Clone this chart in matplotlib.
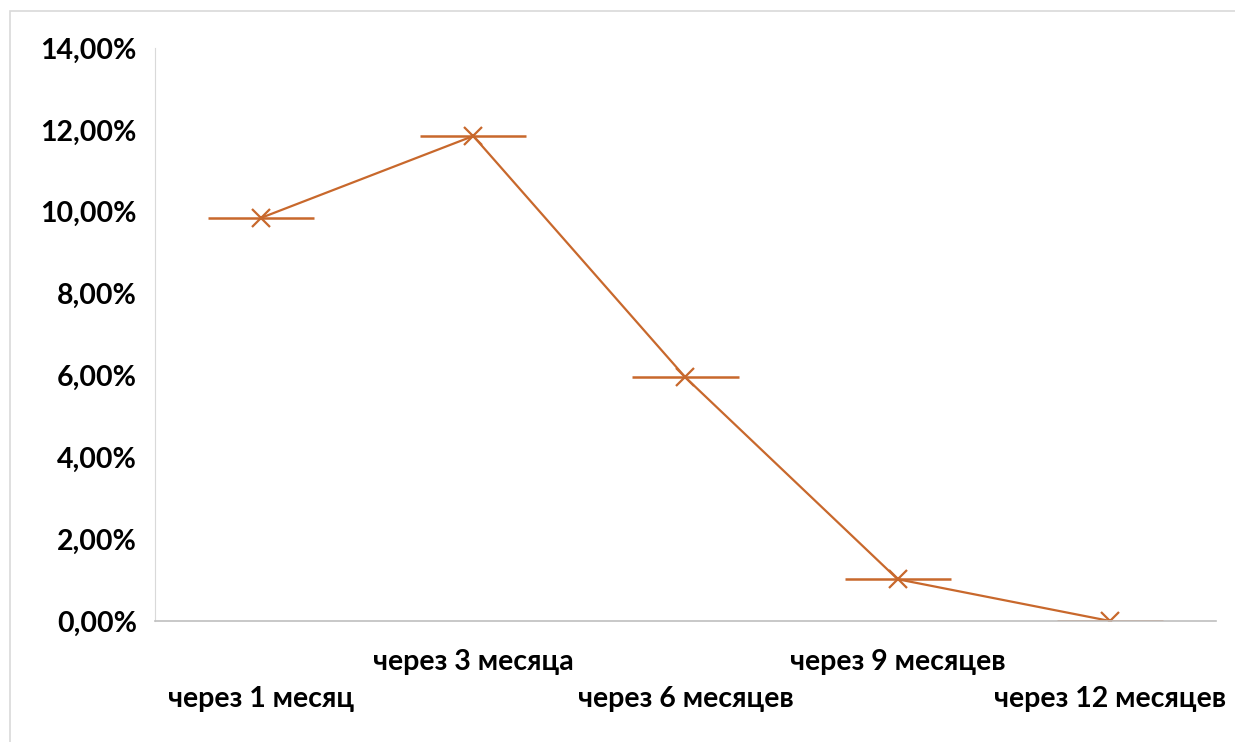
import matplotlib as mpl
mpl.use('agg')
import matplotlib.pyplot as plt
from matplotlib.ticker import FuncFormatter, MultipleLocator
from matplotlib.patches import Rectangle

# данные
categories = ['через 1 месяц', 'через 3 месяца', 'через 6 месяцев',
              'через 9 месяцев', 'через 12 месяцев']
values = [9.85, 11.85, 5.95, 1.02, 0.0]
spread = [0.25, 0.25, 0.25, 0.25, 0.25]

color = '#C8682C'

plt.rcParams['font.family'] = ['Lato', 'DejaVu Sans']
plt.rcParams['font.weight'] = 'bold'

fig = plt.figure(figsize=(12.35, 7.42), dpi=100)
ax = fig.add_axes([0.1255, 0.1631, 0.8591, 0.7722])

x = list(range(len(categories)))
ax.errorbar(x, values, xerr=spread, color=color, linewidth=1.6,
            marker='x', markersize=13, markeredgewidth=1.6,
            elinewidth=1.8, capsize=0)

ax.set_xlim(-0.5, len(categories) - 0.5)
ax.set_ylim(0, 14)
ax.yaxis.set_major_locator(MultipleLocator(2))
ax.yaxis.set_major_formatter(FuncFormatter(lambda v, p: ('%.2f%%' % v).replace('.', ',')))

ax.set_xticks(x)
labels = []
for i, c in enumerate(categories):
    labels.append(c if i % 2 == 1 else '\n' + c)
ax.set_xticklabels(labels)
for lab in ax.get_xticklabels():
    lab.set_linespacing(1.55)

ax.tick_params(axis='both', length=0, labelsize=20.5)
ax.tick_params(axis='y', pad=13)
ax.tick_params(axis='x', pad=20)

ax.spines['top'].set_visible(False)
ax.spines['right'].set_visible(False)
ax.spines['left'].set_color('#d9d9d9')
ax.spines['bottom'].set_color('#bfbfbf')
ax.spines['bottom'].set_linewidth(1.2)

# рамка диаграммы
fig.patches.append(Rectangle((10 / 1235, -0.05), 1.1, 1 - 11 / 742 + 0.05,
                             transform=fig.transFigure, fill=False,
                             edgecolor='#d9d9d9', linewidth=1.2))

plt.savefig('out.png', dpi=100)
plt.close()
